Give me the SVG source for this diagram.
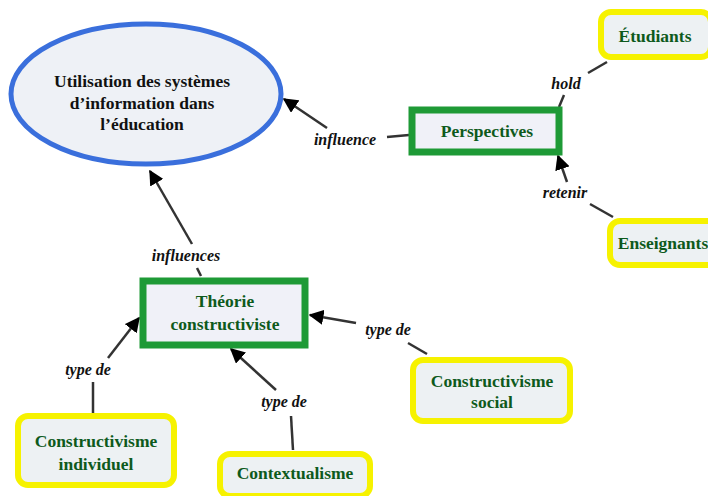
<svg xmlns="http://www.w3.org/2000/svg" width="708" height="496" viewBox="0 0 708 496">
<style>
.nt{font-family:"Liberation Serif","Times New Roman",serif;font-weight:bold;font-size:17.5px;fill:#0e5a1c;text-anchor:middle}
.mt{font-family:"Liberation Serif","Times New Roman",serif;font-weight:bold;font-size:17.5px;fill:#111;text-anchor:middle}
.lb{font-family:"Liberation Serif","Times New Roman",serif;font-style:italic;font-weight:bold;font-size:16px;fill:#111;text-anchor:middle}
.g{fill:#f0f1f8;stroke:#1e9a36;stroke-width:7}
.y{fill:#edf1f3;stroke:#f6f200;stroke-width:6}
.c{stroke:#333;stroke-width:2.5;fill:none}
</style>
<defs>
<marker id="ah" viewBox="0 0 10 10" refX="9" refY="5" markerWidth="6" markerHeight="6" markerUnits="strokeWidth" orient="auto">
<path d="M0,0 L10,5 L0,10 z" fill="#000"/>
</marker>
</defs>
<rect width="708" height="496" fill="#fff"/>
<g id="connectors">
<line class="c" x1="607" y1="62" x2="588" y2="73"/>
<line class="c" x1="564" y1="95" x2="559" y2="107"/>
<line class="c" x1="409" y1="135" x2="387" y2="137"/>
<line class="c" x1="327" y1="128" x2="284" y2="99" marker-end="url(#ah)"/>
<line class="c" x1="613" y1="217" x2="590" y2="204"/>
<line class="c" x1="567" y1="182" x2="558" y2="156" marker-end="url(#ah)"/>
<line class="c" x1="201" y1="276" x2="197" y2="268"/>
<line class="c" x1="192" y1="244" x2="150" y2="171" marker-end="url(#ah)"/>
<line class="c" x1="93" y1="413" x2="93" y2="382"/>
<line class="c" x1="108" y1="358" x2="139" y2="318" marker-end="url(#ah)"/>
<line class="c" x1="293" y1="450" x2="291" y2="416"/>
<line class="c" x1="276" y1="390" x2="231" y2="349" marker-end="url(#ah)"/>
<line class="c" x1="427" y1="354" x2="408" y2="343"/>
<line class="c" x1="356" y1="323" x2="310" y2="315" marker-end="url(#ah)"/>
<text class="lb" x="566" y="89">hold</text>
<text class="lb" x="345" y="145">influence</text>
<text class="lb" x="565" y="198">retenir</text>
<text class="lb" x="186" y="261">influences</text>
<text class="lb" x="88" y="375">type de</text>
<text class="lb" x="284" y="407">type de</text>
<text class="lb" x="388" y="335">type de</text>
</g>
<g id="n-utilisation">
<ellipse cx="146" cy="94" rx="135" ry="70" fill="#eef1f6" stroke="#3a6fdc" stroke-width="5"/>
<text class="mt" x="142" y="87">Utilisation des systèmes</text>
<text class="mt" x="142" y="109">d’information dans</text>
<text class="mt" x="142" y="130">l’éducation</text>
</g>
<g id="n-perspectives">
<rect class="g" x="412" y="110" width="147" height="42"/>
<text class="nt" x="487" y="137">Perspectives</text>
</g>
<g id="n-etudiants">
<rect class="y" x="601" y="12" width="110" height="45" rx="10"/>
<text class="nt" x="655" y="42">Étudiants</text>
</g>
<g id="n-enseignants">
<rect class="y" x="610" y="221" width="110" height="44" rx="10"/>
<text class="nt" x="663" y="249">Enseignants</text>
</g>
<g id="n-theorie">
<rect class="g" x="143" y="281" width="162" height="64"/>
<text class="nt" x="225" y="307">Théorie</text>
<text class="nt" x="225" y="330">constructiviste</text>
</g>
<g id="n-individuel">
<rect class="y" x="18" y="416" width="156" height="69" rx="10"/>
<text class="nt" x="96" y="447">Constructivisme</text>
<text class="nt" x="96" y="470">individuel</text>
</g>
<g id="n-contextualisme">
<rect class="y" x="220" y="454" width="150" height="42" rx="10"/>
<text class="nt" x="295" y="479">Contextualisme</text>
</g>
<g id="n-social">
<rect class="y" x="413" y="360" width="157" height="61" rx="10"/>
<text class="nt" x="492" y="387">Constructivisme</text>
<text class="nt" x="492" y="408">social</text>
</g>
</svg>
